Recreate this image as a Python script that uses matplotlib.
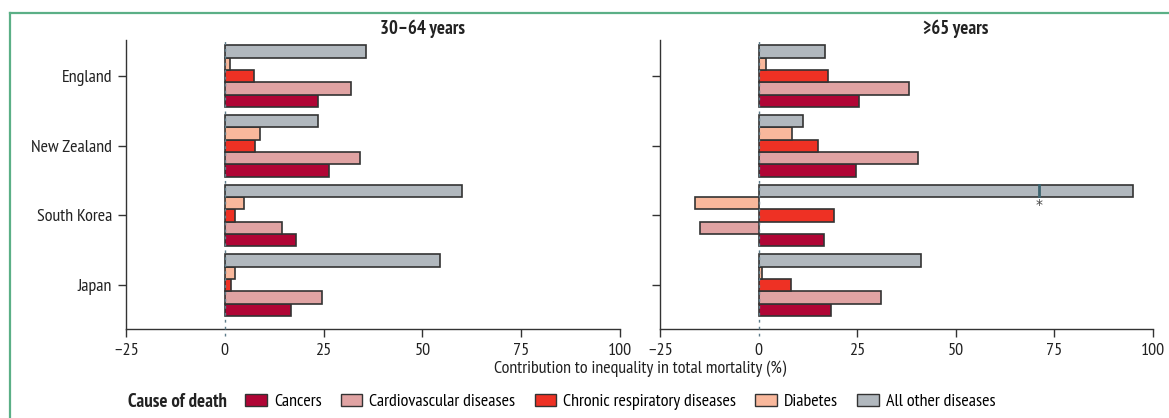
import numpy as np
import matplotlib.pyplot as plt
from matplotlib.patches import Patch
from matplotlib.lines import Line2D

plt.rcParams['font.family'] = ['PT Sans Narrow', 'DejaVu Sans']
plt.rcParams['font.size'] = 13

countries = ['England', 'New Zealand', 'South Korea', 'Japan']
causes = ['Cancers', 'Cardiovascular diseases', 'Chronic respiratory diseases',
          'Diabetes', 'All other diseases']
colors = ['#B00535', '#E0A3A3', '#EE3124', '#F9B89C', '#B1B8BE']

# contribution (%) per country, 30-64 years
cancers_young = [23.7, 26.3, 17.9, 16.7]
cvd_young = [31.9, 34.1, 14.5, 24.7]
resp_young = [7.3, 7.7, 2.6, 1.6]
diabetes_young = [1.2, 8.9, 4.8, 2.6]
other_young = [35.8, 23.6, 60.1, 54.4]

# contribution (%) per country, >=65 years
cancers_old = [25.4, 24.6, 16.7, 18.4]
cvd_old = [38.1, 40.4, -14.9, 31.1]
resp_old = [17.7, 15.1, 19.1, 8.3]
diabetes_old = [1.8, 8.4, -16.1, 0.9]
other_old = [16.8, 11.2, 95.0, 41.2]

# marker inside South Korea "all other diseases" bar
star_x = 71.0

xticks = [-25, 0, 25, 50, 75, 100]

fig = plt.figure(figsize=(11.69, 4.18), dpi=100)
W, H = 1169, 418
ax1 = fig.add_axes([126 / W, 1 - 329 / H, 494 / W, 289 / H])
ax2 = fig.add_axes([660 / W, 1 - 329 / H, 493 / W, 289 / H])

panels = [
    (ax1, '30–64 years', [cancers_young, cvd_young, resp_young, diabetes_young, other_young]),
    (ax2, '≥65 years', [cancers_old, cvd_old, resp_old, diabetes_old, other_old]),
]

bh = 0.178
y = np.arange(len(countries))
for ax, title, series in panels:
    # top to bottom inside a group: other, diabetes, resp, cvd, cancers
    for i, vals in enumerate(series):
        off = (2 - i) * bh
        ax.barh(y + off, vals, height=bh, color=colors[i], edgecolor='#333333',
                linewidth=1.2, zorder=2)
    ax.axvline(0, color='#5E7C8A', linestyle=(0, (2, 3)), linewidth=1.0, zorder=3,
               ymin=-0.025, ymax=1.0, clip_on=False)
    ax.set_xlim(-25, 100)
    ax.set_ylim(3.63, -0.52)
    ax.set_xticks(xticks)
    ax.set_xticklabels([str(t).replace('-', '–') for t in xticks])
    ax.set_yticks(y)
    ax.spines['top'].set_visible(False)
    ax.spines['right'].set_visible(False)
    for s in ['left', 'bottom']:
        ax.spines[s].set_color('#333333')
        ax.spines[s].set_linewidth(1.0)
    ax.tick_params(axis='both', length=6, width=1.0, color='#333333',
                   labelsize=13, labelcolor='#222222', pad=4)
    ax.xaxis.get_major_ticks()[1].tick1line.set_visible(False)
    ax.text(50, -0.68, title, ha='center', va='center', fontweight='bold',
            fontsize=13.5, color='#222222')

ax1.set_yticklabels(countries)
ax2.set_yticklabels([])

# marker in the South Korea bar, >=65 years
ax2.plot([star_x, star_x], [2 - 2 * bh - bh / 2 + 0.01, 2 - 2 * bh + bh / 2 - 0.01],
         color='#3D6470', linewidth=2.0, zorder=4)
ax2.text(star_x, 2 - 1.5 * bh + 0.02, '*', ha='center', va='top', fontsize=10,
         color='#444444', family='DejaVu Sans', zorder=5)

fig.text(640 / W, 1 - 369 / H, 'Contribution to inequality in total mortality (%)',
         ha='center', va='center', fontsize=13, color='#222222')

fig.text(128 / W, 1 - 402 / H, 'Cause of death', ha='left', va='center',
         fontweight='bold', fontsize=13.5, color='#222222')
handles = [Patch(facecolor=c, edgecolor='#333333', linewidth=1.0) for c in colors]
fig.legend(handles, causes, loc='center left', bbox_to_anchor=(245 / W, 1 - 402 / H),
           ncol=5, frameon=False, fontsize=13, handlelength=1.2, handleheight=0.7,
           handletextpad=0.4, columnspacing=1.05, borderaxespad=0, borderpad=0)

# green frame
fig.add_artist(Line2D([9.5 / W, 1], [1 - 12.5 / H, 1 - 12.5 / H], transform=fig.transFigure,
                      color='#5BAF86', linewidth=1.6))
fig.add_artist(Line2D([9.5 / W, 9.5 / W], [0, 1 - 12.5 / H], transform=fig.transFigure,
                      color='#5BAF86', linewidth=1.6))

fig.savefig('out.png', dpi=100)
